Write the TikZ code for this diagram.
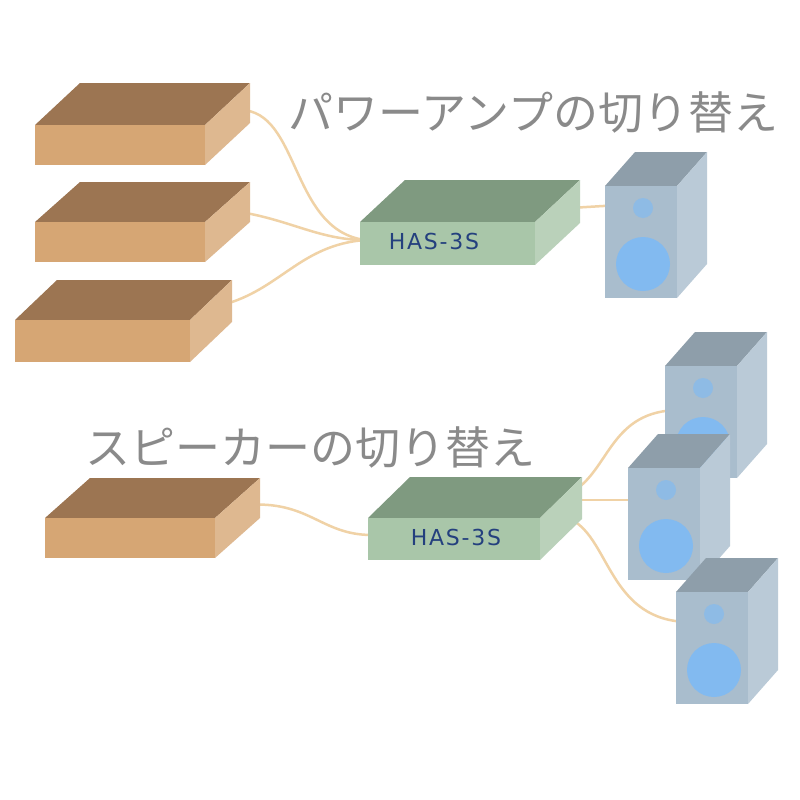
\documentclass[tikz,border=0pt]{standalone}
\usepackage{fontspec}
\newfontfamily\jp{Noto Sans CJK JP}
\newfontfamily\lab[LetterSpace=8]{DejaVu Sans}
\usetikzlibrary{calc}
\definecolor{btop}{HTML}{9C7552}\definecolor{bfront}{HTML}{D6A674}\definecolor{bside}{HTML}{C99660}
\definecolor{gtop}{HTML}{7F9A80}\definecolor{gfront}{HTML}{A9C6A9}\definecolor{gside}{HTML}{C3DEC3}
\definecolor{stop}{HTML}{8E9EAA}\definecolor{sfront}{HTML}{A9BDCD}\definecolor{sside}{HTML}{C6D6E2}
\definecolor{woof}{HTML}{82BAF0}\definecolor{cab}{HTML}{F0D2A6}\definecolor{txt}{HTML}{8A8A8A}
\definecolor{navy}{HTML}{24407E}
\tikzset{cable/.style={draw=cab,line width=2.5pt},lbl/.style={font=\jp\fontsize{45}{45}\selectfont,text=txt,inner sep=0pt,anchor=west},
 has/.style={text=navy,font=\lab\fontsize{22}{22}\selectfont,inner sep=0pt}}
\newcommand\slabbox[9]{%
  \fill[#8] (#2,#3) -- ++(#6,-#7) -- ++(#4,0) -- ++(-#6,#7) -- cycle;
  \fill[#9] (#2,#3) rectangle ++(#4,#5);
  \fill[#9!80!white] (#2+#4,#3) -- ++(#6,-#7) -- ++(0,#5) -- ++(-#6,#7) -- cycle;
}
\newcommand\spk[3]{%
  \slabbox{#1}{#2}{#3}{72}{112}{30}{34}{stop}{sfront}
  \fill[woof] (#2+38,#3+78) circle (27);
  \fill[woof!70!sfront] (#2+38,#3+22) circle (10);
}
\begin{document}
\begin{tikzpicture}[x=1pt,y=-1pt]
\useasboundingbox[fill=white] (0,0) rectangle (800,800);
\coordinate (b1-r) at (240,110);\coordinate (b2-r) at (240,212);\coordinate (b3-r) at (222,305);
\coordinate (b4-r) at (245,505);\coordinate (h1-l) at (365,240);\coordinate (h2-l) at (372,535);
\coordinate (h1-r) at (570,208);\coordinate (s1-l) at (620,205);
\coordinate (h2-r1) at (572,492);\coordinate (h2-r2) at (572,500);\coordinate (h2-r3) at (572,520);
\coordinate (s2-l) at (680,410);\coordinate (s3-l) at (640,500);\coordinate (s4-l) at (690,622);
\draw[cable] (b1-r) .. controls (300,110) and (290,230) .. (h1-l);
\draw[cable] (b2-r) .. controls (290,220) and (320,240) .. (h1-l);
\draw[cable] (b3-r) .. controls (280,290) and (300,245) .. (h1-l);
\draw[cable] (b4-r) .. controls (310,500) and (320,535) .. (h2-l);
\draw[cable] (h1-r) -- (s1-l);
\draw[cable] (h2-r1) .. controls (610,470) and (610,410) .. (s2-l);
\draw[cable] (h2-r2) -- (s3-l);
\draw[cable] (h2-r3) .. controls (610,540) and (610,622) .. (s4-l);
\slabbox{b1}{35}{125}{170}{40}{45}{42}{btop}{bfront}
\slabbox{b2}{35}{222}{170}{40}{45}{40}{btop}{bfront}
\slabbox{b3}{15}{320}{175}{42}{42}{40}{btop}{bfront}
\slabbox{b4}{45}{518}{170}{40}{45}{40}{btop}{bfront}
\slabbox{h1}{360}{222}{175}{43}{45}{42}{gtop}{gfront}
\slabbox{h2}{368}{518}{172}{42}{42}{41}{gtop}{gfront}
\node[has] (t1) at (434,241) {HAS-3S};
\node[has] (t2) at (456,537) {HAS-3S};
\spk{s1}{605}{186}
\spk{s2}{665}{366}
\spk{s3}{628}{468}
\spk{s4}{676}{592}
\node[lbl] (l1) at (288,112) {パワーアンプの切り替え};
\node[lbl] (l2) at (85,447) {スピーカーの切り替え};
\end{tikzpicture}
\end{document}
